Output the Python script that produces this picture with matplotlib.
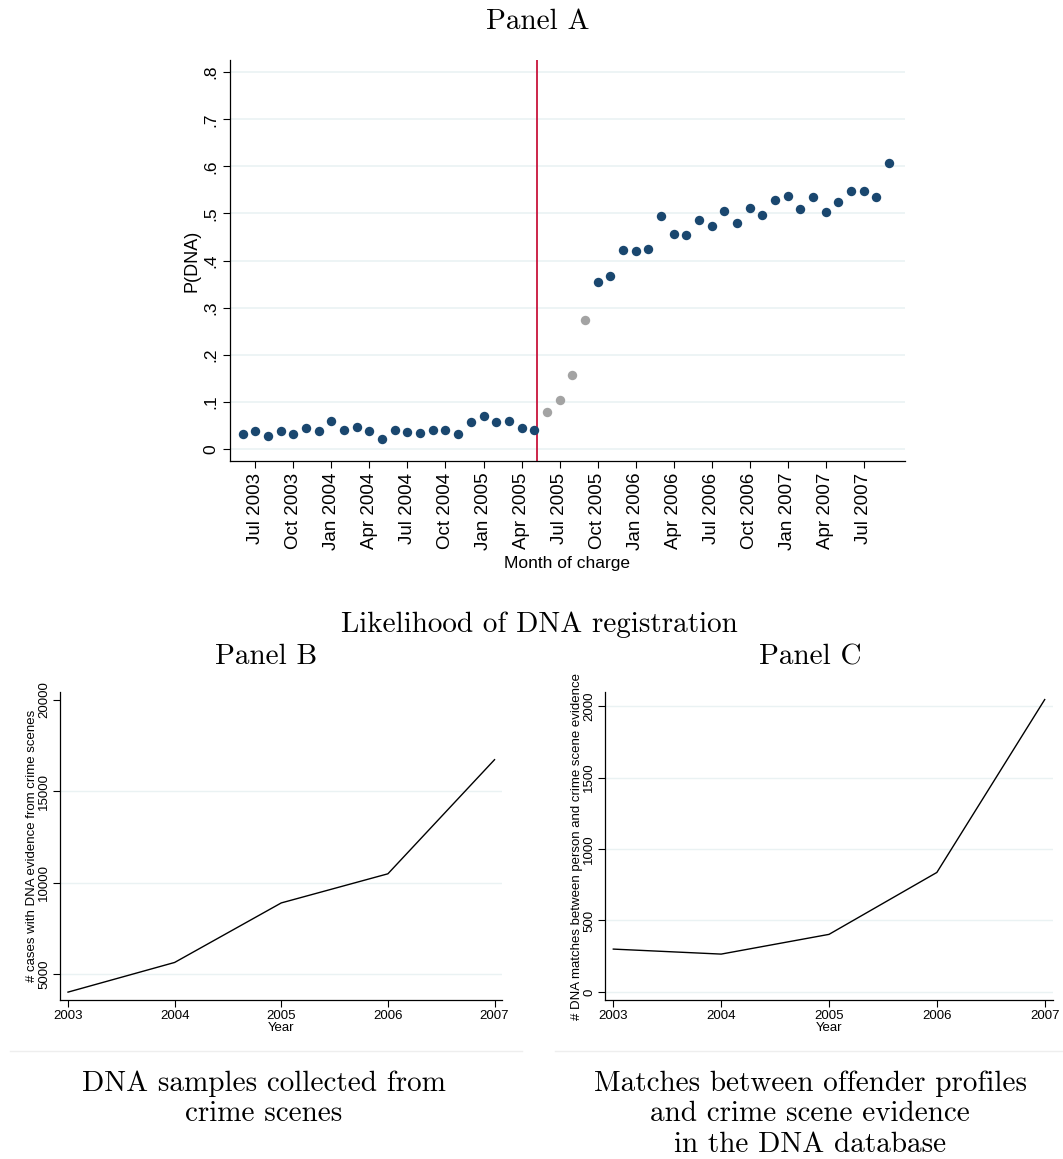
import matplotlib
matplotlib.use("Agg")
import matplotlib.pyplot as plt
import numpy as np

# Panel A: monthly P(DNA), Jun 2003 .. Sep 2007
pre_reform = [0.032, 0.037, 0.028, 0.037, 0.032, 0.045, 0.038, 0.060, 0.040, 0.046,
              0.037, 0.021, 0.039, 0.035, 0.034, 0.039, 0.039, 0.031, 0.057, 0.070,
              0.057, 0.059, 0.045, 0.040]
transition = [0.079, 0.103, 0.156, 0.274]
post_reform = [0.354, 0.367, 0.422, 0.420, 0.425, 0.495, 0.457, 0.455, 0.485, 0.473,
               0.505, 0.479, 0.511, 0.497, 0.528, 0.536, 0.509, 0.534, 0.502, 0.524,
               0.548, 0.548, 0.535, 0.608]
month_ticks = ["Jul 2003", "Oct 2003", "Jan 2004", "Apr 2004", "Jul 2004", "Oct 2004",
               "Jan 2005", "Apr 2005", "Jul 2005", "Oct 2005", "Jan 2006", "Apr 2006",
               "Jul 2006", "Oct 2006", "Jan 2007", "Apr 2007", "Jul 2007"]
reform_month = 23.25  # months after Jun 2003

# Panel B / C: yearly counts
years = [2003, 2004, 2005, 2006, 2007]
crime_scene_samples = [4030, 5650, 8900, 10490, 16720]
db_matches = [300, 265, 403, 836, 2045]

navy = "#1a476f"
grey = "#a3a3a3"
red = "#c8143c"
grid_col = "#eaf2f3"
sans = "Liberation Sans"
serif = "cmr10"

fig = plt.figure(figsize=(10.63, 11.59), dpi=100)
W, H = 1063, 1159


def box(l, t, r, b):
    return [l / W, 1 - b / H, (r - l) / W, (b - t) / H]


def style(ax):
    for s in ["top", "right"]:
        ax.spines[s].set_visible(False)
    ax.spines["left"].set_linewidth(0.9)
    ax.spines["bottom"].set_linewidth(0.9)
    ax.tick_params(direction="out", length=5, width=0.8)


# ---- Panel A
ax = fig.add_axes(box(230, 60, 905, 461))
style(ax)
n_pre, n_tr = len(pre_reform), len(transition)
x_pre = np.arange(n_pre)
x_tr = np.arange(n_pre, n_pre + n_tr)
x_post = np.arange(n_pre + n_tr, n_pre + n_tr + len(post_reform))
for v in np.arange(0, 0.81, 0.1):
    ax.axhline(v, color=grid_col, lw=1.2, zorder=0)
ax.axvline(reform_month, color=red, lw=1.3, zorder=1)
ax.scatter(x_pre, pre_reform, s=46, color=navy, zorder=3, linewidths=0)
ax.scatter(x_tr, transition, s=46, color=grey, zorder=3, linewidths=0)
ax.scatter(x_post, post_reform, s=46, color=navy, zorder=3, linewidths=0)
ax.set_xlim(-1, 52.25)
ax.set_ylim(-0.026, 0.826)
ax.set_xticks(np.arange(1, 1 + 3 * len(month_ticks), 3))
ax.set_xticklabels(month_ticks, rotation=90, fontsize=13.5, family=sans)
ax.set_yticks(np.arange(0, 0.81, 0.1))
ax.set_yticklabels(["0", ".1", ".2", ".3", ".4", ".5", ".6", ".7", ".8"],
                   rotation=90, va="center", fontsize=12.5, family=sans)
ax.set_xlabel("Month of charge", fontsize=12.5, family=sans, labelpad=4)
ax.set_ylabel("P(DNA)", fontsize=13, family=sans, labelpad=2)

# ---- Panel B
axb = fig.add_axes(box(60, 692, 502, 1000))
style(axb)
for v in [5000, 10000, 15000]:
    axb.axhline(v, color=grid_col, lw=1.0, zorder=0)
axb.plot(years, crime_scene_samples, color="black", lw=1.0)
axb.set_xlim(2002.925, 2007.07)
axb.set_ylim(3600, 20415)
axb.set_xticks(years)
axb.set_yticks([5000, 10000, 15000, 20000])
axb.tick_params(labelsize=9.5, pad=2)
for lab in axb.get_yticklabels():
    lab.set_rotation(90)
    lab.set_va("center")
for lab in axb.get_xticklabels() + axb.get_yticklabels():
    lab.set_family(sans)
axb.set_xlabel("Year", fontsize=9.5, family=sans, labelpad=0)
axb.set_ylabel("# cases with DNA evidence from crime scenes", fontsize=9.5,
               family=sans, labelpad=0)

# ---- Panel C
axc = fig.add_axes(box(605, 692, 1053, 1000))
style(axc)
for v in [0, 500, 1000, 1500, 2000]:
    axc.axhline(v, color=grid_col, lw=1.0, zorder=0)
axc.plot(years, db_matches, color="black", lw=1.0)
axc.set_xlim(2002.923, 2007.077)
axc.set_ylim(-56, 2098)
axc.set_xticks(years)
axc.set_yticks([0, 500, 1000, 1500, 2000])
axc.tick_params(labelsize=9.5, pad=2)
for lab in axc.get_yticklabels():
    lab.set_rotation(90)
    lab.set_va("center")
for lab in axc.get_xticklabels() + axc.get_yticklabels():
    lab.set_family(sans)
axc.set_xlabel("Year", fontsize=9.5, family=sans, labelpad=0)
axc.set_ylabel("# DNA matches between person and crime scene evidence",
               fontsize=9.5, family=sans, labelpad=0)

# ---- titles and captions
def ftext(x, y, s, size=21):
    fig.text(x / W, 1 - y / H, s, ha="center", va="center", fontsize=size,
             family=serif, linespacing=1.2)

ftext(538, 22, "Panel A")
ftext(539, 625, "Likelihood of DNA registration")
ftext(266, 657, "Panel B")
ftext(810, 657, "Panel C")
ftext(264, 1099, "DNA samples collected from\ncrime scenes")
ftext(810, 1114, "Matches between offender profiles\nand crime scene evidence\nin the DNA database")

fig.add_artist(plt.Line2D([10 / W, 522 / W], [1 - 1051 / H] * 2, color="#eeeeee", lw=1))
fig.add_artist(plt.Line2D([555 / W, 1 / 1.0], [1 - 1051 / H] * 2, color="#eeeeee", lw=1))

fig.savefig("out.png", dpi=100)
